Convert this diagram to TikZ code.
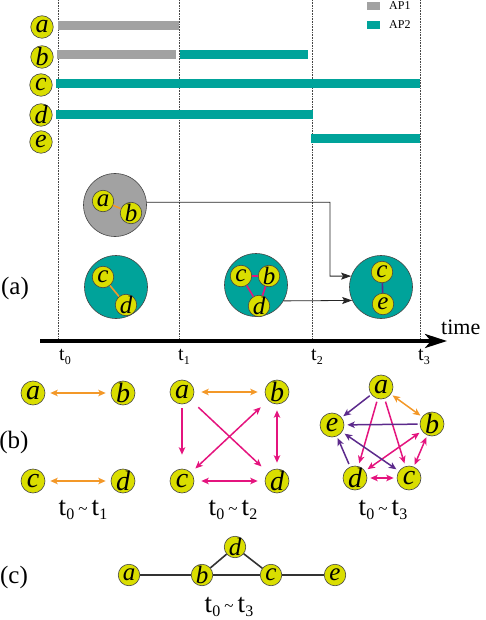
\documentclass[tikz,border=0pt]{standalone}
\usepackage{fontspec}
\setmainfont{Liberation Serif}
\usetikzlibrary{arrows.meta}
\definecolor{apgray}{RGB}{162,162,162}
\definecolor{apteal}{RGB}{0,163,154}
\definecolor{ndyellow}{RGB}{218,222,0}
\definecolor{eorange}{RGB}{243,152,40}
\definecolor{emag}{RGB}{228,20,126}
\definecolor{epurple}{RGB}{92,42,140}
\definecolor{outl}{RGB}{70,70,70}
\newcommand{\tsub}[1]{t\kern0.3pt\raisebox{-3.5pt}{\fontsize{12}{12}\selectfont #1}}
\newcommand{\trng}[2]{t\kern0.3pt\raisebox{-4.5pt}{\fontsize{16}{16}\selectfont #1}\kern4pt\raisebox{1pt}{\fontsize{17}{17}\selectfont\textasciitilde}\kern4pt t\kern0.3pt\raisebox{-4.5pt}{\fontsize{16}{16}\selectfont #2}}
\tikzset{
  pnode/.style={circle, draw=outl, line width=0.6pt, fill=ndyellow, inner sep=0pt, minimum size=24pt,
    label={[inner sep=0pt, font=\fontsize{28}{28}\selectfont\itshape]center:#1}},
  lnode/.style={circle, draw=outl, line width=0.6pt, fill=ndyellow, inner sep=0pt, minimum size=22.5pt,
    label={[inner sep=0pt, font=\fontsize{26}{26}\selectfont\itshape]center:#1}},
  snode/.style={circle, draw=outl, line width=0.6pt, fill=ndyellow, inner sep=0pt, minimum size=21.5pt,
    label={[inner sep=0pt, font=\fontsize{25}{25}\selectfont\itshape]center:#1}},
  vline/.style={densely dotted, line width=0.6pt, draw=outl},
  group/.style={circle, draw=outl, line width=0.6pt, inner sep=0pt, minimum size=63pt},
  tip/.tip={Stealth[length=7.5pt,width=6.5pt,inset=2pt]},
  oarr/.style={draw=eorange, line width=1.5pt, tip-tip, shorten <=5pt, shorten >=5pt},
  marr/.style={draw=emag, line width=1.5pt, -tip, shorten <=5pt, shorten >=5pt},
  mdarr/.style={draw=emag, line width=1.5pt, tip-tip, shorten <=5pt, shorten >=5pt},
  parr/.style={draw=epurple, line width=1.5pt, -tip, shorten <=5pt, shorten >=5pt},
  pdarr/.style={draw=epurple, line width=1.5pt, tip-tip, shorten <=5pt, shorten >=5pt},
  blk/.style={draw=black!85, line width=0.8pt, -{Stealth[length=10pt,width=7pt,inset=2pt]}},
  cedge/.style={draw=black!80, line width=1.6pt},
  lab/.style={font=\fontsize{22}{22}\selectfont, inner sep=0pt},
  tlab/.style={font=\fontsize{20}{20}\selectfont, inner sep=0pt},
  rlab/.style={font=\fontsize{25}{25}\selectfont, inner sep=0pt},
  rng/.style={font=\fontsize{27}{27}\selectfont, inner sep=0pt}
}
\begin{document}
\begin{tikzpicture}[x=1pt,y=-1pt]
\useasboundingbox (0,0) rectangle (485,620);
% vertical dotted lines
\foreach \x in {58,179,312,420} \draw[vline] (\x,0) -- (\x,340);
% legend
\fill[apgray] (367,2) rectangle (380,10);
\node[anchor=west, font=\fontsize{12}{12}\selectfont, inner sep=0pt] (ap1) at (389,6) {AP1};
\fill[apteal] (367,21) rectangle (380,29);
\node[anchor=west, font=\fontsize{12}{12}\selectfont, inner sep=0pt] (ap2) at (389,25) {AP2};
% bars
\fill[apgray] (58,21) rectangle (179,30);
\fill[apgray] (57,50) rectangle (176,59);
\fill[apteal] (180,50) rectangle (308,59);
\fill[apteal] (56,79) rectangle (420,88);
\fill[apteal] (56,110) rectangle (313,119);
\fill[apteal] (311,134) rectangle (420,143);
% row labels
\node[lnode=a] (la) at (42,27) {};
\node[lnode=b] (lb) at (42,57) {};
\node[lnode=c] (lc) at (41,85) {};
\node[lnode=d] (ld) at (41,115) {};
\node[lnode=e] (le) at (41,142) {};
% groups
\node[group, fill=apgray] (G1) at (115,205) {};
\node[snode=a] (g1a) at (103,201) {};
\node[snode=b] (g1b) at (131,213) {};
\draw[draw=eorange, line width=1.6pt] (g1a) -- (g1b);
\node[group, fill=apteal] (T1) at (116,287) {};
\node[snode=c] (t1c) at (103,277) {};
\node[snode=d] (t1d) at (126,305) {};
\draw[draw=eorange, line width=1.6pt] (t1c) -- (t1d);
\node[group, fill=apteal] (T2) at (256,285) {};
\node[snode=c] (t2c) at (241,276) {};
\node[snode=b] (t2b) at (269,276) {};
\node[snode=d] (t2d) at (259,306) {};
\draw[draw=emag, line width=1.6pt] (t2c) -- (t2b) -- (t2d) -- (t2c);
\node[group, fill=apteal] (T3) at (381,287) {};
\node[snode=c] (t3c) at (382,272) {};
\node[snode=e] (t3e) at (383,304) {};
\draw[draw=epurple, line width=1.6pt] (t3c) -- (t3e);
\coordinate (bend) at (330,202.3);
\draw[blk] (G1.5) -- (bend) |- (T3.160);
\draw[blk] (T2.330) -- (T3.205);
% time axis
\coordinate (ax0) at (40,341);
\coordinate (ax1) at (447,341);
\draw[line width=3.5pt, -{Stealth[length=22pt,width=14pt,inset=6pt]}] (ax0) -- (ax1);
\node[lab, anchor=west] (time) at (441,327) {time};
\node[tlab] (t0) at (65,357) {\tsub{0}};
\node[tlab] (t1) at (184,357) {\tsub{1}};
\node[tlab] (t2) at (317,357) {\tsub{2}};
\node[tlab] (t3) at (424,357) {\tsub{3}};
\node[rlab] (la1) at (15,288) {(a)};
\node[rlab] (lb1) at (14,442) {(b)};
\node[rlab] (lc1) at (14,577) {(c)};
% graph 1
\node[pnode=a] (Aa) at (33,393) {};
\node[pnode=b] (Ab) at (123,393) {};
\node[pnode=c] (Ac) at (33,481) {};
\node[pnode=d] (Ad) at (123,481) {};
\draw[oarr] (Aa) -- (Ab);
\draw[oarr] (Ac) -- (Ad);
\node[rng] (Al) at (83,510) {\trng{0}{1}};
% graph 2
\node[pnode=a] (Ba) at (182,392) {};
\node[pnode=b] (Bb) at (277,392) {};
\node[pnode=c] (Bc) at (182,481) {};
\node[pnode=d] (Bd) at (277,481) {};
\draw[oarr, shorten <=7pt, shorten >=7pt] (Ba) -- (Bb);
\draw[marr, shorten <=4pt, shorten >=14pt] (Ba) -- (Bc);
\draw[marr, shorten <=10pt, shorten >=9pt] (Ba) -- (Bd);
\draw[mdarr, shorten <=6pt, shorten >=10pt] (Bc) -- (Bb);
\draw[mdarr, shorten <=6pt, shorten >=6pt] (Bb) -- (Bd);
\draw[mdarr, shorten <=7pt, shorten >=7pt] (Bc) -- (Bd);
\node[rng] (Bl) at (233,510) {\trng{0}{2}};
% graph 3
\node[pnode=a] (Ca) at (381,387) {};
\node[pnode=b] (Cb) at (432,424) {};
\node[pnode=e] (Ce) at (332,425) {};
\node[pnode=d] (Cd) at (355,478) {};
\node[pnode=c] (Cc) at (409,478) {};
\draw[oarr, shorten <=2pt, shorten >=2pt] (Ca) -- (Cb);
\draw[parr, shorten <=2pt, shorten >=2pt] (Ca) -- (Ce);
\draw[marr, shorten <=3pt, shorten >=3pt] (Ca) -- (Cd);
\draw[marr, shorten <=3pt, shorten >=3pt] (Ca) -- (Cc);
\draw[parr, shorten <=2pt, shorten >=3pt] (Cb) -- (Ce);
\draw[mdarr, shorten <=3pt, shorten >=3pt] (Cb) -- (Cd);
\draw[mdarr, shorten <=2pt, shorten >=2pt] (Cb) -- (Cc);
\draw[mdarr, shorten <=3pt, shorten >=3pt] (Cd) -- (Cc);
\draw[parr, shorten <=3pt, shorten >=2pt] (Cd) -- (Ce);
\draw[pdarr, shorten <=3pt, shorten >=3pt] (Ce) -- (Cc);
\node[rng] (Cl) at (383,510) {\trng{0}{3}};
% graph (c)
\node[snode=a] (Da) at (129,575) {};
\node[snode=b] (Db) at (202,575) {};
\node[snode=d] (Dd) at (235,547) {};
\node[snode=c] (Dc) at (271,575) {};
\node[snode=e] (De) at (335,575) {};
\draw[cedge] (Da) -- (Db) -- (Dc) -- (De);
\draw[cedge] (Db) -- (Dd) -- (Dc);
\node[rng] (Dl) at (229,607) {\trng{0}{3}};
\end{tikzpicture}
\end{document}
